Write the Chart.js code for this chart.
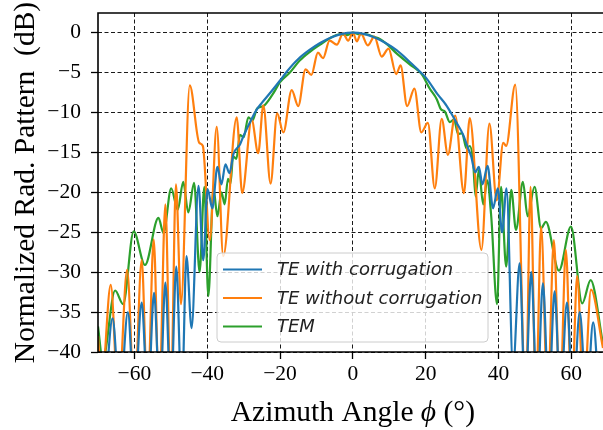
<!DOCTYPE html>
<html>
<head>
<meta charset="utf-8">
<script src="https://cdn.jsdelivr.net/npm/chart.js@4.4.0/dist/chart.umd.min.js"></script>
<style>
  html, body { margin: 0; padding: 0; background: #fff; }
  #wrap { width: 603px; height: 430px; }
</style>
</head>
<body>
<div id="wrap"><canvas id="pattern"></canvas></div>
<script>
// series (azimuth deg -> dB)
const seriesLabels = ['TE with corrugation', 'TE without corrugation', 'TEM'];
const seriesColors = ['#1f77b4', '#ff7f0e', '#2ca02c'];

const xTicks = [-60, -40, -20, 0, 20, 40, 60];
const yTicks = [-40, -35, -30, -25, -20, -15, -10, -5, 0];

const corrAngle = [-70, -68.5, -66, -64, -61.8, -60, -58, -56.3, -54.6, -53, -51.5, -50, -48.5, -47, -45.7, -44.3,
  -42.4, -41.1, -39.9, -38.6, -37.2, -36.1, -35, -33.9, -32.8, -31, -30.1, -28, -26.5, -25, -22.8, -20, -18, -15,
  -12, -9, -6, -3, 0, 3, 6, 9, 12, 15, 18, 20, 23.4, 25.5, 27, 28.5, 30.3, 31.5, 32.5, 33.6, 34.6, 35.6, 37, 38.5,
  39.8, 41, 42.2, 44, 45.8, 47.3, 49, 50.6, 52.2, 53.8, 55.4, 57, 58.8, 60.5, 62.3, 64.2, 66, 68, 68.7];
const corrDb = [-42, -46, -35.8, -46, -35, -46, -33.8, -46, -32.6, -46, -31.3, -46, -29.3, -46, -28, -37,
  -19.2, -28.5, -19.6, -22, -16.8, -19, -16.5, -17.6, -15.2, -14, -13, -11, -9.7, -8.8, -7.6, -6, -4.8, -3.3,
  -2.2, -1.3, -0.6, -0.15, 0, -0.15, -0.6, -1.3, -2.2, -3.4, -4.7, -5.6, -7.8, -9, -10.1, -11.3, -12.8, -14.3, -15.5, -17.5, -16.8, -19, -16.7, -22,
  -19.5, -25, -19.5, -42, -28.9, -46, -30, -46, -31.4, -46, -32.4, -46, -33.8, -46, -35, -46, -36.3, -46, -43];

const plainAngle = [-70, -69, -66.5, -64.4, -62, -60, -58, -56.4, -54.7, -53.2, -51.5, -50, -48.6, -47.2, -44.8,
  -42.2, -41.2, -39.3, -37.4, -35.6, -31.9, -30.4, -27.8, -26, -24.6, -22.6, -20.8, -19.1, -16.8, -15, -13, -11.4,
  -9.6, -8.2, -6.4, -4.4, -2.7, -1.3, 0, 1.1, 2.2, 4.1, 5.9, 7.9, 9.8, 11.9, 13.1, 14.9, 16.9, 18.8, 20.6, 22.5,
  24.4, 26.1, 28.1, 30.5, 32.1, 35.3, 37.5, 39.5, 41.3, 42.1, 44.6, 47.5, 48.8, 50.3, 51.7, 53.5, 55.2, 56.9, 58.5,
  60.1, 61.6, 63.4, 65.4, 68.7];
const plainDb = [-38, -44, -31.6, -46, -29.7, -46, -28.5, -46, -25.9, -46, -21.5, -46, -19, -34, -6.6,
  -13.8, -14.2, -26, -11.8, -28, -10.6, -20.1, -10.9, -15.1, -9.1, -18.9, -10.1, -12.5, -7.2, -9.2, -4.6, -5.3,
  -2.5, -3.2, -1, -1.5, -0.1, -1, 0, -1.1, -0.1, -1.6, -0.5, -3, -2, -5.2, -4.1, -9.2, -7, -12.5, -11.3, -19.5,
  -10.8, -15.3, -10.4, -20.1, -10.7, -27.2, -11.4, -21, -13.8, -14.2, -6.5, -46, -19.3, -46, -24.3, -46, -26, -46, -27.2,
  -46, -30.5, -46, -32.2, -39.5];

const temAngle = [-70, -68.7, -65.3, -63.1, -60.2, -57.1, -53.4, -52, -49.9, -48.1, -46.6, -45.2, -43.6, -42.1,
  -40.8, -39.7, -38.3, -37.2, -36.1, -35.2, -34.3, -33.6, -32.9, -32, -31, -30, -28.7, -27.6, -26.3, -24.6, -22,
  -20, -17.3, -14.6, -11.8, -9, -6.3, -3.6, -1.5, 0, 1.8, 3.8, 5.5, 7.4, 9.5, 12, 15.7, 18.9, 21.1, 23, 24.2, 25.3,
  26.6, 27.8, 28.9, 30, 31.2, 32.1, 33, 33.7, 34.6, 35.8, 36.9, 38, 39.6, 40.7, 42.1, 43.5, 44.8, 46.7, 48, 49.9,
  51.7, 53, 56.6, 59.9, 63, 65.3, 68.7];
const temDb = [-36.8, -41, -32.3, -34, -24.9, -29.1, -23.2, -25.1, -19.5, -22.2, -18.7, -22.5, -18.8, -30,
  -19.3, -33, -19.5, -23, -20, -21.5, -18.3, -18.9, -15.5, -15.8, -12.8, -13.1, -10.6, -11, -9.5, -9.2, -7.7,
  -6.2, -5, -3.5, -2.4, -1.5, -0.7, -0.2, -0.3, 0, -0.2, -0.2, -0.5, -0.8, -1.5, -2.6, -4, -5.2, -7, -8.3, -9.6, -9.9,
  -11.2, -10.9, -12.7, -12.6, -14.5, -14.2, -16, -20.5, -17.2, -21.5, -18.5, -23, -34, -19.3, -29.3, -19.7, -24.7, -18.7, -23, -19.3,
  -24.5, -23.7, -29.8, -24.3, -33.9, -31, -39];

const toPoints = (angles, db) => angles.map((a, i) => ({ x: a, y: db[i] }));

const serif = '"Liberation Serif", "Times New Roman", serif';
const tickLabel = v => String(v).replace('-', '\u2212');

// spines, axis titles and the boxed legend, drawn the matplotlib way
const decorations = {
  id: 'decorations',
  afterDraw(chart) {
    const { ctx, chartArea: a, scales } = chart;
    ctx.save();

    ctx.strokeStyle = '#000';
    ctx.lineWidth = 1.6;
    ctx.beginPath();
    ctx.moveTo(a.left, a.bottom);
    ctx.lineTo(a.left, a.top);
    ctx.lineTo(a.right, a.top);
    ctx.moveTo(a.left, a.bottom);
    ctx.lineTo(a.right, a.bottom);
    ctx.stroke();

    // y title
    ctx.fillStyle = '#000';
    ctx.font = '29.5px ' + serif;
    ctx.textAlign = 'center';
    ctx.textBaseline = 'alphabetic';
    ctx.save();
    ctx.translate(34, (a.top + a.bottom) / 2);
    ctx.rotate(-Math.PI / 2);
    ctx.fillText('Normalized Rad. Pattern  (dB)', 0, 0);
    ctx.restore();

    // x title with italic phi
    const parts = [
      ['Azimuth Angle ', '29.5px ' + serif],
      ['\u03D5', 'italic 29.5px ' + serif],
      [' (\u00B0)', '29.5px ' + serif]
    ];
    let total = 0;
    parts.forEach(p => { ctx.font = p[1]; total += ctx.measureText(p[0]).width; });
    let tx = scales.x.getPixelForValue(0) - total / 2;
    ctx.textAlign = 'left';
    parts.forEach(p => {
      ctx.font = p[1];
      ctx.fillText(p[0], tx, 421);
      tx += ctx.measureText(p[0]).width;
    });

    // legend
    const lx = 217, ly = 253, lw = 271, lh = 89, r = 4;
    ctx.beginPath();
    ctx.moveTo(lx + r, ly);
    ctx.arcTo(lx + lw, ly, lx + lw, ly + lh, r);
    ctx.arcTo(lx + lw, ly + lh, lx, ly + lh, r);
    ctx.arcTo(lx, ly + lh, lx, ly, r);
    ctx.arcTo(lx, ly, lx + lw, ly, r);
    ctx.closePath();
    ctx.fillStyle = 'rgba(255,255,255,0.8)';
    ctx.fill();
    ctx.strokeStyle = '#cccccc';
    ctx.lineWidth = 1;
    ctx.stroke();

    ctx.font = 'italic 18px "DejaVu Sans", sans-serif';
    ctx.textBaseline = 'middle';
    seriesLabels.forEach((label, i) => {
      const yy = 269.5 + i * 28.5;
      ctx.strokeStyle = seriesColors[i];
      ctx.lineWidth = 2.2;
      ctx.beginPath();
      ctx.moveTo(223, yy);
      ctx.lineTo(262, yy);
      ctx.stroke();
      ctx.fillStyle = '#222';
      ctx.fillText(label, 277, yy + 1);
    });

    ctx.restore();
  }
};

const angleAxis = {
  type: 'linear',
  min: -70,
  max: 68.7,
  afterBuildTicks: s => { s.ticks = xTicks.map(v => ({ value: v })); },
  afterFit: s => { s.height = 78; s.paddingLeft = 0; s.paddingRight = 0; },
  ticks: { color: '#000', font: { family: serif, size: 21.5 }, padding: 2, callback: tickLabel, maxRotation: 0 },
  grid: { color: '#000', lineWidth: 0.9, tickLength: 7, tickColor: '#000', tickWidth: 1.3 },
  border: { display: false, dash: [4, 2.5] }
};

const dbAxis = {
  type: 'linear',
  min: -40,
  max: 2.46,
  afterBuildTicks: s => { s.ticks = yTicks.map(v => ({ value: v })); },
  afterFit: s => { s.width = 98; s.paddingTop = 0; s.paddingBottom = 0; },
  ticks: { color: '#000', font: { family: serif, size: 21.5 }, padding: 10, callback: tickLabel },
  grid: { color: '#000', lineWidth: 0.9, tickLength: 7, tickColor: '#000', tickWidth: 1.3 },
  border: { display: false, dash: [4, 2.5] }
};

const makeSet = (i, angles, db) => ({
  label: seriesLabels[i],
  data: toPoints(angles, db),
  borderColor: seriesColors[i],
  borderWidth: 2.2,
  pointRadius: 0,
  cubicInterpolationMode: 'monotone',
  fill: false
});

new Chart(document.getElementById('pattern'), {
  type: 'line',
  data: {
    datasets: [
      makeSet(0, corrAngle, corrDb),
      makeSet(1, plainAngle, plainDb),
      makeSet(2, temAngle, temDb)
    ]
  },
  options: {
    responsive: true,
    maintainAspectRatio: false,
    animation: false,
    layout: { padding: { top: 13, right: 0, left: 0, bottom: 0 } },
    plugins: { legend: { display: false }, tooltip: { enabled: false } },
    scales: { x: angleAxis, y: dbAxis }
  },
  plugins: [decorations]
});
</script>
</body>
</html>
